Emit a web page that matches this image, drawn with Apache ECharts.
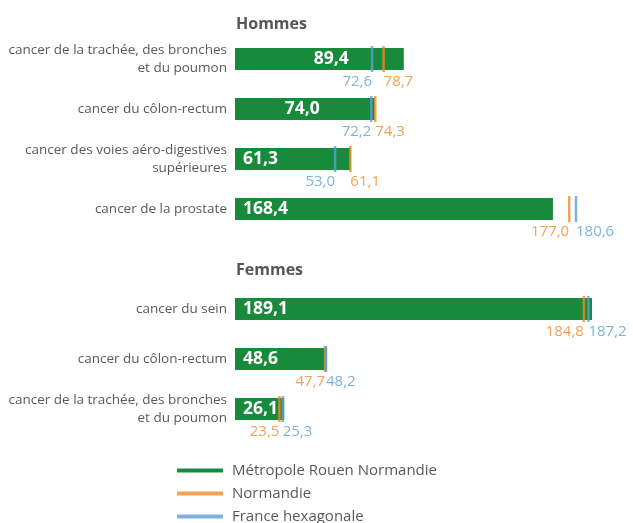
<!DOCTYPE html>
<html>
<head>
	<meta charset="utf-8">
	<title>Cancers - Hommes / Femmes</title>
	<script src="https://cdn.jsdelivr.net/npm/echarts@6/dist/echarts.min.js"></script>
	<style type="text/css">
		html, body { margin: 0; padding: 0; background-color: #fff; }
		#chartBox { width: 633px; height: 523px; }
	</style>
</head>
<body>
<div id="chartBox"></div>

<script>
	// lignes du graphique (la ligne vide sépare Hommes / Femmes)
	var categories = [
		'cancer de la trachée, des bronches\net du poumon',
		'cancer du côlon-rectum',
		'cancer des voies aéro-digestives\nsupérieures',
		'cancer de la prostate',
		'',
		'cancer du sein',
		'cancer du côlon-rectum',
		'cancer de la trachée, des bronches\net du poumon'
	];
	var metropole = [89.4, 74.0, 61.3, 168.4, null, 189.1, 48.6, 26.1];
	var normandie = [78.7, 74.3, 61.1, 177.0, null, 184.8, 47.7, 23.5];
	var france = [72.6, 72.2, 53.0, 180.6, null, 187.2, 48.2, 25.3];
	var seriesNames = ['Métropole Rouen Normandie', 'Normandie', 'France hexagonale'];
	var groupTitles = ['Hommes', 'Femmes'];

	var font = '"Open Sans", "Noto Sans", sans-serif';
	var cGreen = '#188a3c';
	var cOrange = '#f28a24';
	var cBlue = '#5d9fd8';

	function fr(v) {
		return v.toFixed(1).replace('.', ',');
	}

	// labels dans les barres : les deux premières à droite, le reste à gauche
	var barData = metropole.map(function (v, i) {
		if (v === null) return null;
		var item = { value: v };
		if (i < 2) {
			item.label = { position: 'insideRight', distance: 55 };
		}
		return item;
	});

	// le plus petit des deux repères a son label à gauche, le plus grand à droite
	function markerData(values, others) {
		return values.map(function (v, i) {
			if (v === null) return null;
			return {
				value: [v, i],
				label: { align: v <= others[i] ? 'right' : 'left' }
			};
		});
	}

	var chart = echarts.init(document.getElementById('chartBox'));

	var markerBase = {
		type: 'scatter',
		symbol: 'rect',
		symbolSize: [2.5, 26],
		z: 5,
		label: {
			show: true,
			position: 'bottom',
			distance: 2,
			fontFamily: font,
			fontSize: 15,
			formatter: function (p) { return fr(p.value[0]); }
		}
	};

	var titleStyle = { fontFamily: font, fontSize: 16, fontWeight: 'bold', color: '#555' };

	var options = {
		animation: false,
		title: [
			{ text: groupTitles[0], left: 231, top: 11, textStyle: titleStyle },
			{ text: groupTitles[1], left: 231, top: 257, textStyle: titleStyle }
		],
		grid: { left: 235, right: 20.4, top: 34, bottom: 89, containLabel: false },
		xAxis: {
			type: 'value',
			min: 0,
			max: 200,
			show: false
		},
		yAxis: {
			type: 'category',
			inverse: true,
			data: categories,
			axisLine: { show: false },
			axisTick: { show: false },
			axisLabel: {
				margin: 8,
				fontFamily: font,
				fontSize: 13.5,
				lineHeight: 18,
				color: '#595959',
				align: 'right'
			}
		},
		legend: {
			orient: 'vertical',
			left: 172,
			top: 456,
			height: 80,
			itemWidth: 46,
			itemHeight: 4,
			itemGap: 4,
			textStyle: { fontFamily: font, fontSize: 15, lineHeight: 19, color: '#595959', padding: [0, 0, 0, 4] },
			data: seriesNames.map(function (n) { return { name: n, icon: 'rect' }; })
		},
		series: [
			{
				name: seriesNames[0],
				type: 'bar',
				barWidth: 22,
				data: barData,
				itemStyle: { color: cGreen },
				label: {
					show: true,
					position: 'insideLeft',
					distance: 8,
					fontFamily: font,
					fontSize: 17.5,
					fontWeight: 'bold',
					color: '#fff',
					formatter: function (p) { return fr(p.value); }
				}
			},
			Object.assign({}, markerBase, {
				name: seriesNames[1],
				itemStyle: { color: cOrange },
				label: Object.assign({}, markerBase.label, { color: cOrange }),
				data: markerData(normandie, france)
			}),
			Object.assign({}, markerBase, {
				name: seriesNames[2],
				itemStyle: { color: cBlue },
				label: Object.assign({}, markerBase.label, { color: cBlue }),
				data: markerData(france, normandie)
			})
		]
	};

	chart.setOption(options);
</script>
</body>
</html>
